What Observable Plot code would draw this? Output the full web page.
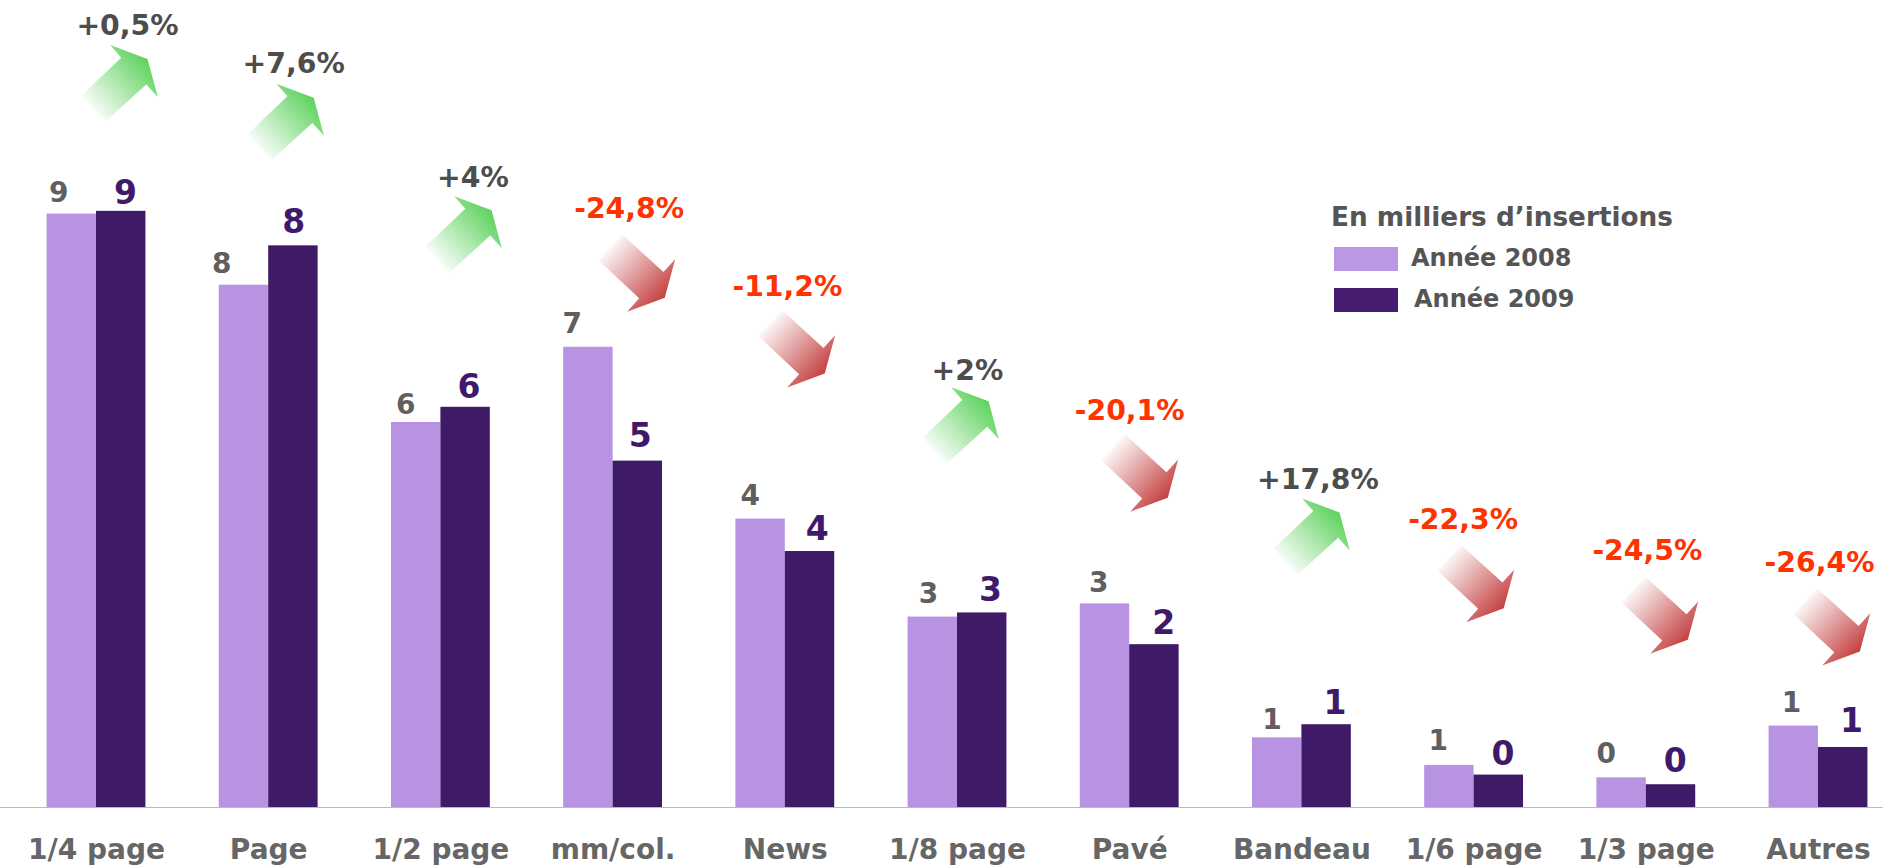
<!DOCTYPE html>
<html lang="fr">
<head>
<meta charset="utf-8">
<script src="https://cdn.jsdelivr.net/npm/d3@7"></script>
<script src="https://cdn.jsdelivr.net/npm/@observablehq/plot@0.6"></script>
<style>
  html, body { margin: 0; padding: 0; background: #fff; }
  #chart { position: relative; width: 1883px; height: 867px; font-family: "DejaVu Sans", sans-serif; font-weight: bold; color: #555; overflow: hidden; }
  #chart svg { display: block; }
  .lg { position: absolute; line-height: 1; white-space: nowrap; }
  .sw { position: absolute; width: 64px; height: 24px; }
</style>
</head>
<body>
<div id="chart"></div>
<script>
// Values (thousands of insertions)
const categories = ["1/4 page","Page","1/2 page","mm/col.","News","1/8 page","Pavé","Bandeau","1/6 page","1/3 page","Autres"];
const values2008 = [8.60,7.57,5.58,6.67,4.18,2.76,2.95,1.01,0.61,0.43,1.18];
const values2009 = [8.64,8.14,5.80,5.02,3.71,2.82,2.36,1.20,0.47,0.33,0.87];
const labels2008 = ["9","8","6","7","4","3","3","1","1","0","1"];
const labels2009 = ["9","8","6","5","4","3","2","1","0","0","1"];
const changes = ["+0,5%","+7,6%","+4%","-24,8%","-11,2%","+2%","-20,1%","+17,8%","-22,3%","-24,5%","-26,4%"];

// Annotation anchors, in scale units (category offset, thousands)
const label08Dx = [-.22,-.273,-.204,-.238,-.204,-.168,-.18,-.174,-.209,-.232,-.157];
const label08Y  = [8.77,7.74,5.71,6.88,4.38,2.96,3.12,1.14,.84,.65,1.39];
const label09Dx = [.168,.145,.163,.157,.186,.192,.197,.192,.168,.168,.192];
const label09Y  = [8.75,8.32,5.93,5.23,3.87,3.0,2.52,1.35,.62,.51,1.09];
const changeDx  = [.18,.145,.186,.093,.012,.058,0,.093,-.064,.006,.006];
const changeY   = [11.19,10.64,9.0,8.54,7.42,6.19,5.62,4.61,4.03,3.58,3.41];
const arrowDx   = [-.087,-.122,-.089,-.085,-.156,-.203,-.164,-.165,-.213,-.144,-.145];
const arrowY    = [10.32,9.76,8.13,7.93,6.83,5.36,5.03,3.75,3.43,2.97,2.80];

const barW = 0.287;
const rows = categories.map((c, i) => ({
  c, i, mid: i + .5, v08: values2008[i], v09: values2009[i],
  l08: labels2008[i], l09: labels2009[i], ch: changes[i],
  up: changes[i].startsWith("+")
}));

const upArrow = { draw(ctx) {
  ctx.moveTo(0,0); ctx.lineTo(24,26); ctx.lineTo(64.7,-11); ctx.lineTo(76.3,1.7);
  ctx.lineTo(66,-36.3); ctx.lineTo(28.7,-50.3); ctx.lineTo(39.7,-37.7); ctx.closePath();
}};
const downArrow = { draw(ctx) {
  ctx.moveTo(0,0); ctx.lineTo(24,-25.7); ctx.lineTo(65,11.7); ctx.lineTo(76.7,-1);
  ctx.lineTo(66.3,37.3); ctx.lineTo(28.7,51.3); ctx.lineTo(40.7,38); ctx.closePath();
}};

const plot = Plot.plot({
  width: 1883, height: 867,
  marginTop: 0, marginRight: 0, marginBottom: 60, marginLeft: 0,
  style: { fontFamily: '"DejaVu Sans", sans-serif', fontWeight: "bold", background: "transparent" },
  x: { type: "linear", domain: [0, 11], range: [9.9, 1904.1], axis: null },
  y: { domain: [0, 807 / 69], axis: null },
  marks: [
    Plot.rectY(rows, { x1: d => d.mid - barW, x2: "mid", y: "v08", fill: "#b793e2", inset: 0 }),
    Plot.rectY(rows, { x1: "mid", x2: d => d.mid + barW, y: "v09", fill: "#3f1a66", inset: 0 }),
    Plot.ruleY([0], { stroke: "#bbbbbb", strokeWidth: 1 }),
    Plot.axisX(rows.map(d => d.mid), {
      tickSize: 0, tickPadding: 32, fontSize: 28, fill: "#666666", fontWeight: "bold",
      tickFormat: d => categories[d - .5], anchor: "bottom", label: null
    }),
    Plot.text(rows, { x: d => d.mid + label08Dx[d.i], y: d => label08Y[d.i], text: "l08", lineAnchor: "bottom", fontSize: 28, fontWeight: "bold", fill: "#5f5f5f" }),
    Plot.text(rows, { x: d => d.mid + label09Dx[d.i], y: d => label09Y[d.i], text: "l09", lineAnchor: "bottom", fontSize: 33, fontWeight: "bold", fill: "#3f1a6b" }),
    Plot.text(rows, { x: d => d.mid + changeDx[d.i], y: d => changeY[d.i], text: "ch", lineAnchor: "bottom", fontSize: 28.3, fontWeight: "bold", fill: d => d.up ? "#4d4d4d" : "#ff3300" }),
    Plot.dot(rows.filter(d => d.up), { x: d => d.mid + arrowDx[d.i], y: d => arrowY[d.i], symbol: upArrow, fill: "url(#grad-up)", stroke: "none" }),
    Plot.dot(rows.filter(d => !d.up), { x: d => d.mid + arrowDx[d.i], y: d => arrowY[d.i], symbol: downArrow, fill: "url(#grad-down)", stroke: "none" })
  ]
});

// Arrow gradients
const defs = d3.select(plot).insert("defs", ":first-child");
const grad = (id, x1, y1, x2, y2, c0, c1) => {
  const g = defs.append("linearGradient").attr("id", id)
    .attr("x1", x1).attr("y1", y1).attr("x2", x2).attr("y2", y2);
  g.append("stop").attr("offset", 0).attr("stop-color", c0);
  g.append("stop").attr("offset", 1).attr("stop-color", c1);
};
grad("grad-up", .157, .835, .865, .182, "#f7fcf7", "#5cd25c");
grad("grad-down", .157, .165, .865, .818, "#fcf6f6", "#c43f3f");

const root = document.getElementById("chart");
root.appendChild(plot);

// Legend
const legendTitle = "En milliers d’insertions";
const legendItems = [["Année 2008", "#ba98e4"], ["Année 2009", "#451c70"]];
const addText = (t, left, top, fs) => {
  const s = document.createElement("div");
  s.className = "lg"; s.textContent = t;
  s.style.cssText = `left:${left}px;top:${top}px;font-size:${fs}px`;
  root.appendChild(s);
};
const addSwatch = (c, top) => {
  const s = document.createElement("div");
  s.className = "sw";
  s.style.cssText = `left:1334px;top:${top}px;background:${c}`;
  root.appendChild(s);
};
addText(legendTitle, 1331, 204, 26.3);
addSwatch(legendItems[0][1], 247);
addSwatch(legendItems[1][1], 288);
addText(legendItems[0][0], 1411, 245.7, 24);
addText(legendItems[1][0], 1414, 286.7, 24);
</script>
</body>
</html>
